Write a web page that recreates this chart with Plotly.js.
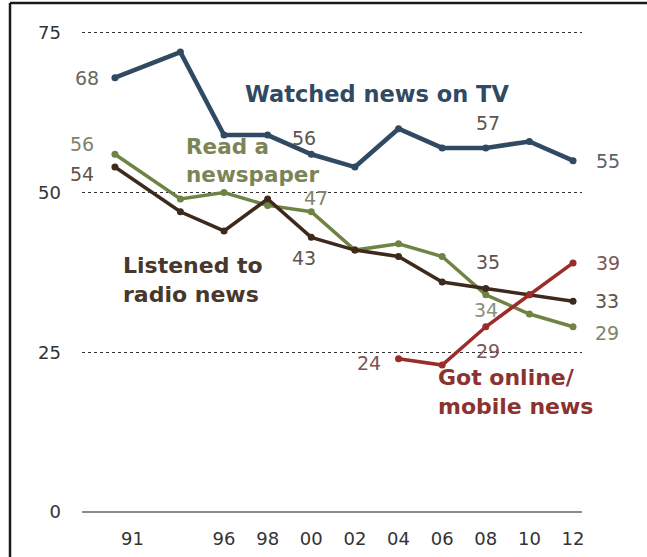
<!DOCTYPE html>
<html>
<head>
<meta charset="utf-8">
<script src="https://cdn.plot.ly/plotly-3.0.1.min.js"></script>
<style>
html,body{margin:0;padding:0;background:#fff;}
#chart{width:647px;height:557px;}
</style>
</head>
<body>
<div id="chart"></div>
<script>
// Data
const years = [1991, 1994, 1996, 1998, 2000, 2002, 2004, 2006, 2008, 2010, 2012];
const tvValues = [68, 72, 59, 59, 56, 54, 60, 57, 57, 58, 55];
const newspaperValues = [56, 49, 50, 48, 47, 41, 42, 40, 34, 31, 29];
const radioValues = [54, 47, 44, 49, 43, 41, 40, 36, 35, 34, 33];
const onlineYears = [2004, 2006, 2008, 2010, 2012];
const onlineValues = [24, 23, 29, 34, 39];
const xTickVals = [1991.8, 1996, 1998, 2000, 2002, 2004, 2006, 2008, 2010, 2012];
const xTickText = ['91', '96', '98', '00', '02', '04', '06', '08', '10', '12'];
const yTickVals = [0, 25, 50, 75];
const yTickText = ['0', '25', '50', '75'];

const cTV = '#2f4a62', cNP = '#6f8444', cRadio = '#3e2a1d', cOnline = '#9a2c2a';
const FONT = 'DejaVu Sans, Verdana, sans-serif';

function series(x, y, color, w) {
  return {x: x, y: y, type: 'scatter', mode: 'lines+markers',
    line: {color: color, width: w}, marker: {color: color, size: 7},
    hoverinfo: 'skip', cliponaxis: false};
}
const traces = [
  series(years, newspaperValues, cNP, 3.5),
  series(years, radioValues, cRadio, 3.5),
  series(onlineYears, onlineValues, cOnline, 3.5),
  series(years, tvValues, cTV, 4.5)
];

function idx(arr, yr) { return arr.indexOf(yr); }
function valLabel(xArr, yArr, yr, color, dx, dy) {
  const i = idx(xArr, yr);
  return {x: xArr[i], y: yArr[i], text: String(yArr[i]), showarrow: false,
    xshift: dx, yshift: dy, xanchor: 'center', yanchor: 'middle',
    font: {family: FONT, size: 19, color: color}};
}
const gTV = '#5a6470', gNP = '#7d8468', gRadio = '#5e544c', gOnline = '#7e5450';
const annotations = [
  valLabel(years, tvValues, 1991, '#6a6a5c', -28, 0),
  valLabel(years, newspaperValues, 1991, gNP, -33, 10),
  valLabel(years, radioValues, 1991, gRadio, -33, -7),
  valLabel(years, tvValues, 2000, gRadio, -7, 16),
  valLabel(years, newspaperValues, 2000, gNP, 5, 14),
  valLabel(years, radioValues, 2000, gRadio, -7, -21),
  valLabel(years, tvValues, 2008, gRadio, 2, 25),
  valLabel(years, tvValues, 2012, gTV, 35, 0),
  valLabel(onlineYears, onlineValues, 2012, gOnline, 35, 0),
  valLabel(years, radioValues, 2012, gRadio, 34, 0),
  valLabel(years, newspaperValues, 2012, gNP, 34, -6),
  valLabel(years, radioValues, 2008, gRadio, 2, 26),
  valLabel(years, newspaperValues, 2008, '#8a9080', 0, -15),
  valLabel(onlineYears, onlineValues, 2008, gOnline, 2, -24),
  valLabel(onlineYears, onlineValues, 2004, gOnline, -30, -4),
  {x: 2003.0, y: 65.4, text: '<b>Watched news on TV</b>', showarrow: false,
    xanchor: 'center', yanchor: 'middle', font: {family: FONT, size: 22.5, color: cTV}},
  {x: 1994.15, y: 55.1, text: '<b>Read a<br>newspaper</b>', showarrow: false, align: 'left',
    xanchor: 'left', yanchor: 'middle', font: {family: FONT, size: 21.5, color: '#7b8456'}},
  {x: 1991.3, y: 36.3, text: '<b>Listened to<br>radio news</b>', showarrow: false, align: 'left',
    xanchor: 'left', yanchor: 'middle', font: {family: FONT, size: 22, color: '#47372d'}},
  {x: 2005.72, y: 18.8, text: '<b>Got online/<br>mobile news</b>', showarrow: false, align: 'left',
    xanchor: 'left', yanchor: 'middle', font: {family: FONT, size: 22, color: '#8b3330'}}
];

const layout = {
  width: 647, height: 557,
  margin: {l: 82, r: 65, t: 31, b: 45, pad: 0},
  paper_bgcolor: '#fff', plot_bgcolor: '#fff',
  showlegend: false,
  xaxis: {range: [1989.49, 2012.41], tickvals: xTickVals, ticktext: xTickText,
    showgrid: false, zeroline: false, showline: false, ticks: '',
    ticklabelstandoff: 14,
    tickfont: {family: FONT, size: 18, color: '#333'}, fixedrange: true},
  yaxis: {range: [0, 75.3], tickvals: yTickVals, ticktext: yTickText,
    showgrid: true, gridcolor: '#333', griddash: 'dot', gridwidth: 1,
    zeroline: true, zerolinecolor: '#8a8a8a', zerolinewidth: 1.5,
    showline: false, ticks: '', ticklabelstandoff: 20,
    tickfont: {family: FONT, size: 18, color: '#333'}, fixedrange: true},
  annotations: annotations,
  shapes: [
    {type: 'line', xref: 'paper', yref: 'paper', x0: -0.144, x1: 1.14, y0: 1.058, y1: 1.058,
      line: {color: '#1a1a1a', width: 2.5}},
    {type: 'line', xref: 'paper', yref: 'paper', x0: -0.144, x1: -0.144, y0: 1.058, y1: -0.1,
      line: {color: '#1a1a1a', width: 2.5}}
  ]
};

Plotly.newPlot('chart', traces, layout, {staticPlot: true, displayModeBar: false});
</script>
</body>
</html>
